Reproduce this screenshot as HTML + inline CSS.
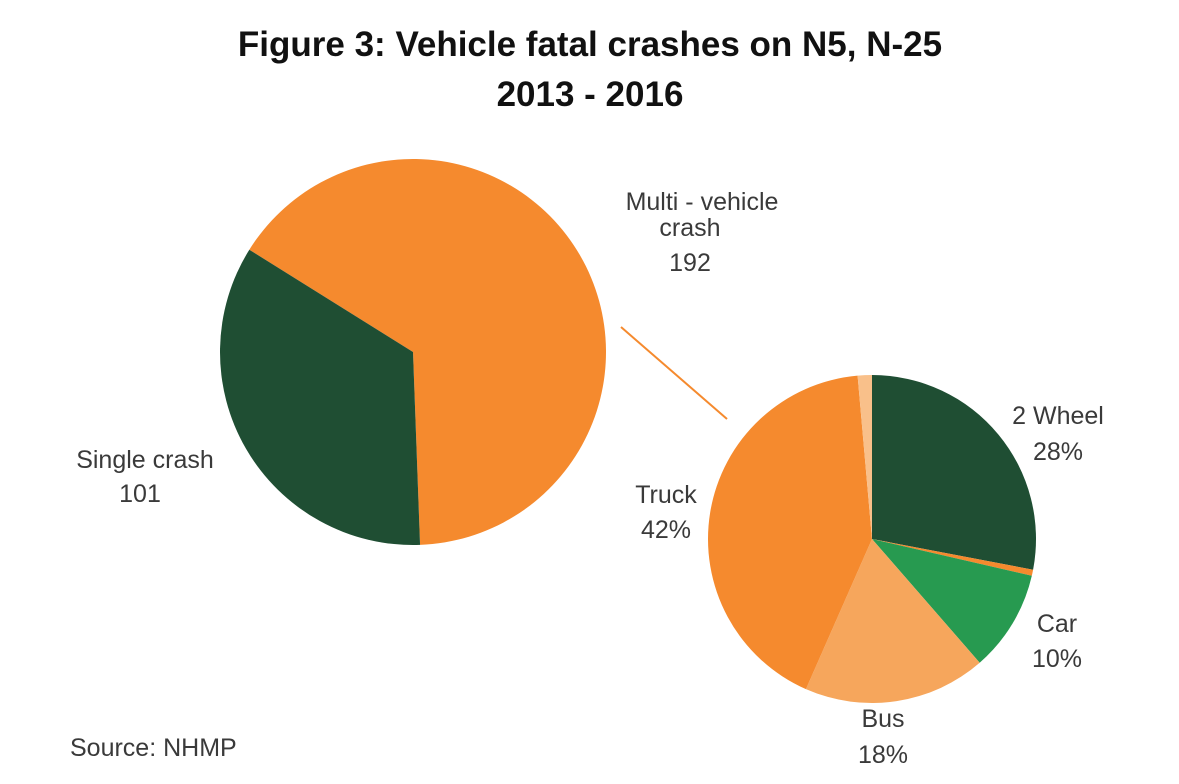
<!DOCTYPE html>
<html><head><meta charset="utf-8"><style>
body{margin:0;background:#fff;}
svg{display:block;font-family:"Liberation Sans",sans-serif;}
.lbl{font-size:25px;fill:#3a3a3a;}
</style></head><body>
<svg id="chart" width="1179" height="784">
<text x="590" y="56" text-anchor="middle" font-size="35" font-weight="bold" fill="#111">Figure 3: Vehicle fatal crashes on N5, N-25</text>
<text x="590" y="106" text-anchor="middle" font-size="35" font-weight="bold" fill="#111">2013 - 2016</text>
<line x1="621" y1="327" x2="727" y2="419" stroke="#f58a2e" stroke-width="2"/>
<g id="big"></g>
<g id="small"></g>
<text class="lbl" x="702" y="210" text-anchor="middle">Multi - vehicle</text>
<text class="lbl" x="690" y="236" text-anchor="middle">crash</text>
<text class="lbl" x="690" y="271" text-anchor="middle">192</text>
<text class="lbl" x="145" y="468" text-anchor="middle">Single crash</text>
<text class="lbl" x="140" y="502" text-anchor="middle">101</text>
<text class="lbl" x="1058" y="424" text-anchor="middle" font-size="22">2 Wheel</text>
<text class="lbl" x="1058" y="460" text-anchor="middle">28%</text>
<text class="lbl" x="1057" y="632" text-anchor="middle">Car</text>
<text class="lbl" x="1057" y="667" text-anchor="middle">10%</text>
<text class="lbl" x="883" y="727" text-anchor="middle">Bus</text>
<text class="lbl" x="883" y="763" text-anchor="middle">18%</text>
<text class="lbl" x="666" y="503" text-anchor="middle">Truck</text>
<text class="lbl" x="666" y="538" text-anchor="middle">42%</text>
<text class="lbl" x="70" y="756" font-size="24" fill="#111">Source: NHMP</text>
</svg>
<script>
const mainCategories=["Multi - vehicle crash","Single crash"];
const mainValues=[192,101];
const subCategories=["2 Wheel","Other","Car","Bus","Truck","Misc"];
const subValues=[28,0.6,10,18,42,1.4];
const ns="http://www.w3.org/2000/svg";
function pt(cx,cy,r,a){return [cx+r*Math.sin(a),cy-r*Math.cos(a)];}
function drawPie(g,cx,cy,r,vals,cols,start,names){
  const tot=vals.reduce((a,b)=>a+b,0);let a=start;
  vals.forEach((v,i)=>{const s=a,e=a+v/tot*2*Math.PI;a=e;
    const p1=pt(cx,cy,r,s),p2=pt(cx,cy,r,e);
    const p=document.createElementNS(ns,"path");
    p.setAttribute("d",`M${cx},${cy}L${p1[0]},${p1[1]}A${r},${r} 0 ${e-s>Math.PI?1:0} 1 ${p2[0]},${p2[1]}Z`);
    p.setAttribute("fill",cols[i]);
    
    
    g.appendChild(p);});
}
// main pie: single crash ends at ~302deg clockwise from top
const tot=mainValues[0]+mainValues[1];
const mainStart=302/180*Math.PI;
drawPie(document.getElementById("big"),413,352,193,mainValues,["#f58a2e","#1f4e33"],mainStart,mainCategories);
drawPie(document.getElementById("small"),872,539,164,subValues,["#1f4e33","#f58a2e","#279a50","#f6a65c","#f58a2e","#f9c08a"],0,subCategories);
</script>
</body></html>
